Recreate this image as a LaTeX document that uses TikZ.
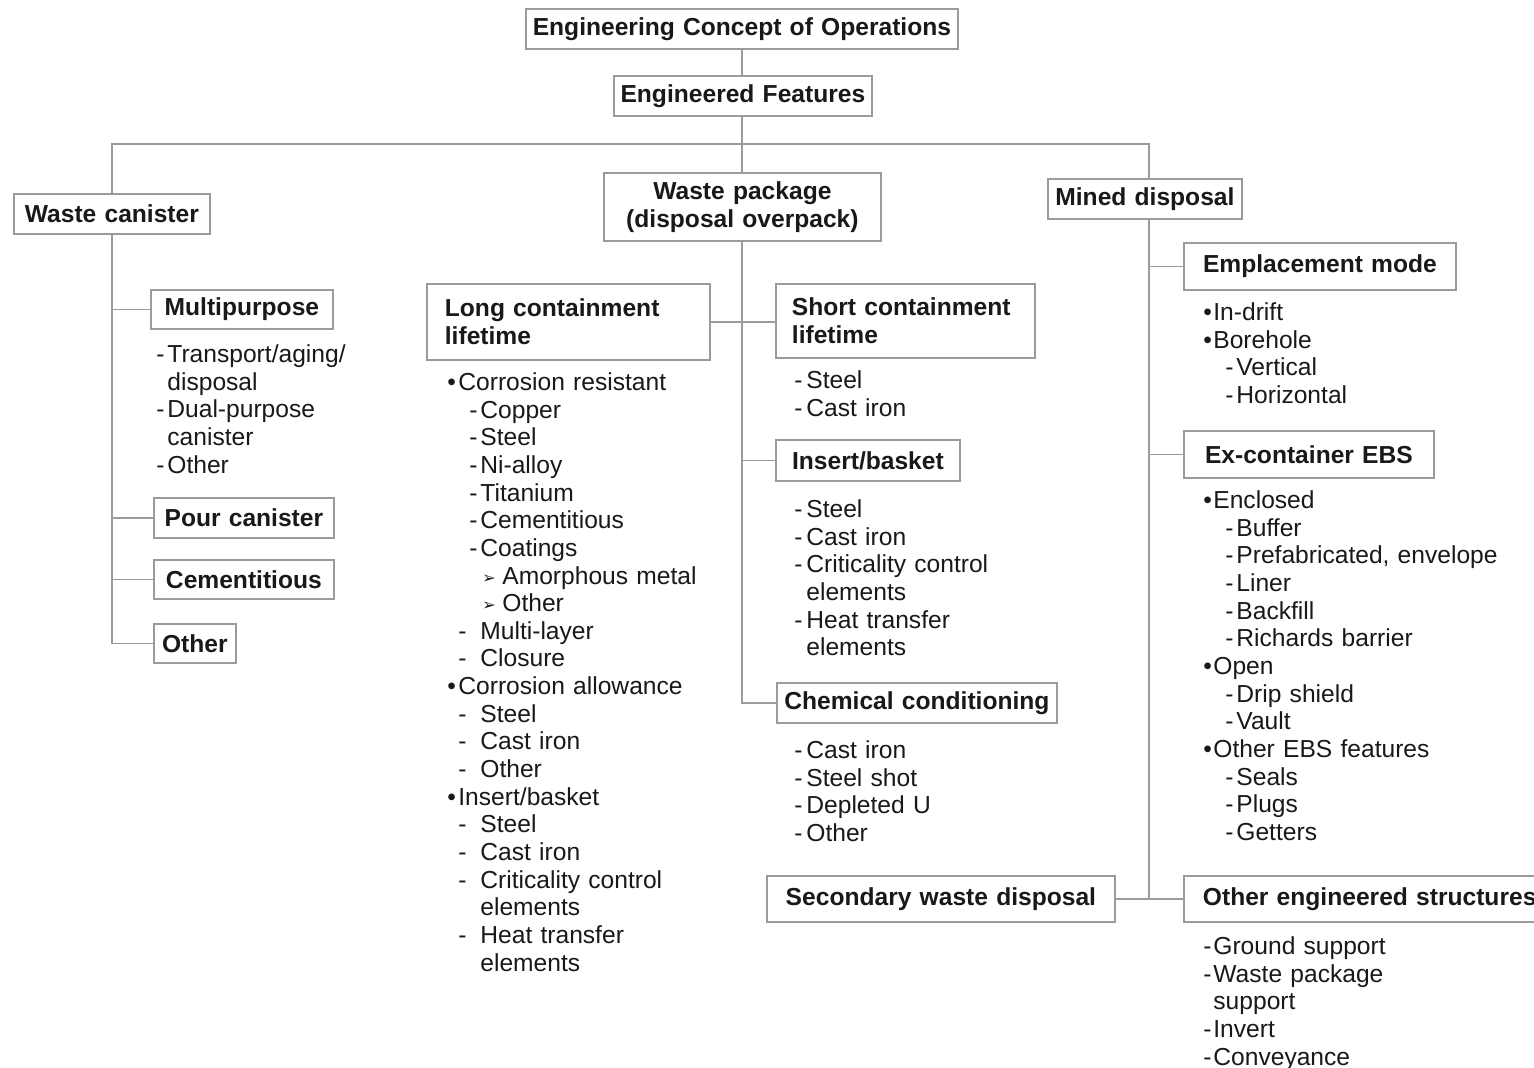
\documentclass[tikz,border=0pt]{standalone}
\usepackage{fontspec}
\setmainfont{Liberation Sans}
\newfontfamily\dingfont{DejaVu Sans}
\newcommand\fsz{\fontsize{12.3pt}{13.83pt}\selectfont}
% one list line: indent, marker box, marker, text
\newcommand\ent[4]{\hspace*{#1pt}\makebox[#2pt][l]{#3}#4}
\newcommand\fl{\rule{0pt}{10pt}}
\newcommand\arw{\raisebox{0.4pt}{\dingfont\fontsize{8pt}{8pt}\selectfont ➢}}
\definecolor{edge}{RGB}{155,155,155}
\definecolor{ink}{RGB}{25,25,25}
\tikzset{every picture/.style = {x=0.5pt, y=-0.5pt}}
\tikzset{hd/.style = {draw=edge, line width=0.9pt, fill=white, font=\fsz\bfseries,
  text=ink, inner xsep=0pt, inner ysep=0pt, anchor=north west, align=center}}
\tikzset{hdl/.style = {hd, align=left, inner xsep=9pt}}
\tikzset{lst/.style = {font=\fsz, text=ink, inner sep=0pt, anchor=north west,
  align=left, text width=200pt}}
\tikzset{link/.style = {draw=edge, line width=0.8pt}}

\begin{document}
\begin{tikzpicture}
  \fill[white] (0,0) rectangle (1534,1068);
  \useasboundingbox (0,0) rectangle (1534,1068);
  \clip (0,0) rectangle (1534,1068);

  % top of the tree
  \node[hd, text width=216pt, minimum height=20pt] (ecoo) at (525,8)
    {Engineering Concept of Operations};
  \node[hd, text width=129pt, minimum height=20pt] (ef) at (613,75)
    {Engineered Features};
  \node[hd, text width=98pt, minimum height=20pt] (wc) at (13,193)
    {Waste canister};
  \node[hd, text width=138.5pt, minimum height=34pt] (wp) at (603,172)
    {Waste package\\(disposal overpack)};
  \node[hd, text width=97pt, minimum height=20pt] (md) at (1047,178)
    {Mined disposal};

  % waste canister
  \node[hd, text width=91pt, minimum height=19.5pt] (mp) at (150,289) {Multipurpose};
  \node[hd, text width=90pt, minimum height=20pt] (pc) at (153,497) {Pour canister};
  \node[hd, text width=90pt, minimum height=19.5pt] (cem) at (153,559) {Cementitious};
  \node[hd, text width=41pt, minimum height=19.5pt] (oth) at (153,623) {Other};
  \node[lst] (mplist) at (153,342) {\fl\ent{1.5}{5.5}{-}{Transport/aging/}\\
    \ent{7}{0}{}{disposal}\\ \ent{1.5}{5.5}{-}{Dual-purpose}\\
    \ent{7}{0}{}{canister}\\ \ent{1.5}{5.5}{-}{Other}};

  % waste package
  \node[hdl, text width=123.5pt, minimum height=38pt] (lcl) at (426,283)
    {Long containment\\lifetime};
  \node[hdl, inner xsep=8pt, text width=113.5pt, minimum height=37pt] (scl) at (775,283)
    {Short containment\\lifetime};
  \node[hd, text width=92pt, minimum height=20.5pt] (ib) at (775,439) {Insert/basket};
  \node[hd, text width=140pt, minimum height=20pt] (cc) at (776,682)
    {Chemical conditioning};
  \node[hd, text width=174pt, minimum height=23pt] (swd) at (766,875)
    {Secondary waste disposal};
  \node[lst] (lcllist) at (447,370) {\fl\ent{0}{5.5}{•}{Corrosion resistant}\\
    \ent{11}{5.5}{-}{Copper}\\ \ent{11}{5.5}{-}{Steel}\\
    \ent{11}{5.5}{-}{Ni-alloy}\\ \ent{11}{5.5}{-}{Titanium}\\
    \ent{11}{5.5}{-}{Cementitious}\\ \ent{11}{5.5}{-}{Coatings}\\
    \ent{17.5}{10}{\arw}{Amorphous metal}\\ \ent{17.5}{10}{\arw}{Other}\\
    \ent{5.5}{11}{-}{Multi-layer}\\ \ent{5.5}{11}{-}{Closure}\\
    \ent{0}{5.5}{•}{Corrosion allowance}\\
    \ent{5.5}{11}{-}{Steel}\\ \ent{5.5}{11}{-}{Cast iron}\\ \ent{5.5}{11}{-}{Other}\\
    \ent{0}{5.5}{•}{Insert/basket}\\
    \ent{5.5}{11}{-}{Steel}\\ \ent{5.5}{11}{-}{Cast iron}\\
    \ent{5.5}{11}{-}{Criticality control}\\ \ent{16.5}{0}{}{elements}\\
    \ent{5.5}{11}{-}{Heat transfer}\\ \ent{16.5}{0}{}{elements}};
  \node[lst] (scllist) at (794,368) {\fl\ent{0}{6}{-}{Steel}\\
    \ent{0}{6}{-}{Cast iron}};
  \node[lst] (iblist) at (794,497) {\fl\ent{0}{6}{-}{Steel}\\
    \ent{0}{6}{-}{Cast iron}\\ \ent{0}{6}{-}{Criticality control}\\
    \ent{6}{0}{}{elements}\\ \ent{0}{6}{-}{Heat transfer}\\
    \ent{6}{0}{}{elements}};
  \node[lst] (cclist) at (794,738) {\fl\ent{0}{6}{-}{Cast iron}\\
    \ent{0}{6}{-}{Steel shot}\\ \ent{0}{6}{-}{Depleted U}\\ \ent{0}{6}{-}{Other}};

  % mined disposal
  \node[hd, text width=136pt, minimum height=23.5pt] (em) at (1183,242)
    {Emplacement mode};
  \node[hd, text width=125pt, minimum height=23.5pt] (ebs) at (1183,430)
    {Ex-container EBS};
  \node[hdl, inner xsep=9.5pt, text width=181pt, minimum height=23pt] (oes) at (1183,875)
    {Other engineered structures};
  \node[lst] (emlist) at (1203,300) {\fl\ent{0}{5}{•}{In-drift}\\
    \ent{0}{5}{•}{Borehole}\\ \ent{11}{5.5}{-}{Vertical}\\
    \ent{11}{5.5}{-}{Horizontal}};
  \node[lst] (ebslist) at (1203,488) {\fl\ent{0}{5}{•}{Enclosed}\\
    \ent{11}{5.5}{-}{Buffer}\\ \ent{11}{5.5}{-}{Prefabricated, envelope}\\
    \ent{11}{5.5}{-}{Liner}\\ \ent{11}{5.5}{-}{Backfill}\\
    \ent{11}{5.5}{-}{Richards barrier}\\
    \ent{0}{5}{•}{Open}\\ \ent{11}{5.5}{-}{Drip shield}\\ \ent{11}{5.5}{-}{Vault}\\
    \ent{0}{5}{•}{Other EBS features}\\ \ent{11}{5.5}{-}{Seals}\\
    \ent{11}{5.5}{-}{Plugs}\\ \ent{11}{5.5}{-}{Getters}};
  \node[lst] (oeslist) at (1203,934) {\fl\ent{0}{5}{-}{Ground support}\\
    \ent{0}{5}{-}{Waste package}\\ \ent{5}{0}{}{support}\\
    \ent{0}{5}{-}{Invert}\\ \ent{0}{5}{-}{Conveyance}};

  % connectors
  \coordinate (bar) at (742,144);
  \coordinate (mdt) at ([xshift=2pt]md.south);
  \draw[link] (ecoo.south -| bar) -- (ef.north -| bar);
  \draw[link] (ef.south -| bar) -- (wp.north -| bar);
  \draw[link] (wc.north) |- (bar) -| ([xshift=2pt]md.north);
  \draw[link] (wc.south) |- (oth.west);
  \foreach \n in {mp, pc, cem}
    \draw[link] (wc.south |- \n.west) -- (\n.west);
  \draw[link] (wp.south -| bar) |- (cc.west);
  \draw[link] (bar |- ib.west) -- (ib.west);
  \draw[link] (lcl.east) -- (lcl.east -| scl.west);
  \draw[link] (mdt) |- (oes.west);
  \draw[link] (mdt |- em.west) -- (em.west);
  \draw[link] (mdt |- ebs.west) -- (ebs.west);
  \draw[link] (swd.east) -- (mdt |- swd.east);
\end{tikzpicture}
\end{document}
